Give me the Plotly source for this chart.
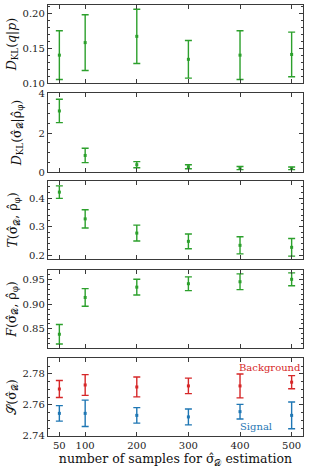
import plotly.graph_objects as go
from plotly.subplots import make_subplots

# ---- data ----
n_samples = [50, 100, 200, 300, 400, 500]
x_tick_labels = ["50", "100", "200", "300", "400", "500"]

dkl_qp = [0.140, 0.158, 0.167, 0.134, 0.140, 0.141]
dkl_qp_err = [0.035, 0.040, 0.039, 0.027, 0.035, 0.032]

dkl_sr = [3.13, 0.85, 0.375, 0.27, 0.20, 0.19]
dkl_sr_err = [0.60, 0.37, 0.16, 0.10, 0.08, 0.07]

t_sr = [0.421, 0.327, 0.277, 0.248, 0.234, 0.227]
t_sr_err = [0.022, 0.032, 0.028, 0.026, 0.030, 0.031]

f_sr = [0.839, 0.914, 0.935, 0.942, 0.946, 0.951]
f_sr_err = [0.020, 0.018, 0.016, 0.014, 0.016, 0.013]

s_bkg = [2.7703, 2.7729, 2.7716, 2.7723, 2.7723, 2.7747]
s_bkg_err = [0.0055, 0.0067, 0.0064, 0.0050, 0.0077, 0.0042]
s_sig = [2.7546, 2.7546, 2.7533, 2.7523, 2.7557, 2.7533]
s_sig_err = [0.0050, 0.0085, 0.0050, 0.0051, 0.0047, 0.0086]

GREEN = "#2ca02c"
RED = "#d62728"
BLUE = "#1f77b4"
FONT = "DejaVu Serif"
AX = "#3a3a3a"

fig = make_subplots(rows=5, cols=1, shared_xaxes=True, vertical_spacing=0.02)


def add(row, y, err, color):
    fig.add_trace(
        go.Scatter(
            x=n_samples, y=y, mode="markers",
            marker=dict(color=color, size=3, symbol="square"),
            error_y=dict(type="data", array=err, visible=True, color=color,
                         thickness=1.4, width=3.5),
            showlegend=False,
        ),
        row=row, col=1,
    )


add(1, dkl_qp, dkl_qp_err, GREEN)
add(2, dkl_sr, dkl_sr_err, GREEN)
add(3, t_sr, t_sr_err, GREEN)
add(4, f_sr, f_sr_err, GREEN)
add(5, s_bkg, s_bkg_err, RED)
add(5, s_sig, s_sig_err, BLUE)

domains = [[0.819, 1.0], [0.6125, 0.7958], [0.4107, 0.5916], [0.2042, 0.3852], [0.0, 0.181]]
titles = [
    "<i>D</i><sub>KL</sub>(<i>q</i>|<i>p</i>)",
    "<i>D</i><sub>KL</sub>(σ̂<sub>𝒟</sub>|ρ̂<sub>φ</sub>)",
    "<i>T</i>(σ̂<sub>𝒟</sub>, ρ̂<sub>φ</sub>)",
    "<i>F</i>(σ̂<sub>𝒟</sub>, ρ̂<sub>φ</sub>)",
    "𝒮(σ̂<sub>𝒟</sub>)",
]
yranges = [[0.10, 0.212], [0.0, 4.05], [0.186, 0.46], [0.811, 0.970], [2.74, 2.7903]]
yticks = [[0.10, 0.15, 0.20], [0, 2, 4], [0.2, 0.3, 0.4], [0.85, 0.90, 0.95], [2.74, 2.76, 2.78]]
ylabels = [["0.10", "0.15", "0.20"], ["0", "2", "4"], ["0.2", "0.3", "0.4"],
           ["0.85", "0.90", "0.95"], ["2.74", "2.76", "2.78"]]
minor_d = [0.01, 0.5, 0.02, 0.01, 0.005]
standoffs = [3, 14, 8, 3, 3]

for i in range(5):
    r = i + 1
    fig.update_yaxes(
        row=r, col=1, domain=domains[i], range=yranges[i], automargin=False,
        tickmode="array", tickvals=yticks[i], ticktext=ylabels[i],
        ticks="inside", ticklen=4, tickwidth=1, tickcolor=AX,
        minor=dict(ticks="inside", ticklen=2, dtick=minor_d[i], tick0=0, tickcolor=AX, showgrid=False),
        showline=True, linecolor=AX, linewidth=1.3, mirror="allticks",
        showgrid=False, zeroline=False,
        tickfont=dict(family=FONT, size=10, color="#222"),
        title=dict(text=titles[i], font=dict(family=FONT, size=12.5, color="#111"), standoff=standoffs[i]),
    )
    fig.update_xaxes(
        row=r, col=1, range=[28, 522], automargin=False,
        tickmode="array", tickvals=n_samples, ticktext=x_tick_labels,
        ticks="inside", ticklen=4, tickwidth=1, tickcolor=AX,
        showline=True, linecolor=AX, linewidth=1.3, mirror="allticks",
        showgrid=False, zeroline=False, showticklabels=(r == 5),
        tickfont=dict(family=FONT, size=10, color="#222"),
    )

fig.update_xaxes(row=5, col=1,
                 title=dict(text="number of samples for σ̂<sub>𝒟</sub> estimation",
                            font=dict(family=FONT, size=12.5, color="#111"), standoff=2))

fig.add_annotation(x=522, y=2.789, xref="x5", yref="y5", text="Background",
                   showarrow=False, xanchor="right", yanchor="top",
                   font=dict(family=FONT, size=10, color=RED))
fig.add_annotation(x=430, y=2.741, xref="x5", yref="y5", text="Signal",
                   showarrow=False, xanchor="center", yanchor="bottom",
                   font=dict(family=FONT, size=10, color=BLUE))

fig.update_layout(
    width=309, height=472,
    margin=dict(l=48, r=6, t=5, b=36, autoexpand=False),
    paper_bgcolor="white", plot_bgcolor="white",
    showlegend=False,
)

fig.write_html("out.html", config={"displayModeBar": False},
               post_script="document.body.style.margin='0';document.body.style.overflow='hidden';")
